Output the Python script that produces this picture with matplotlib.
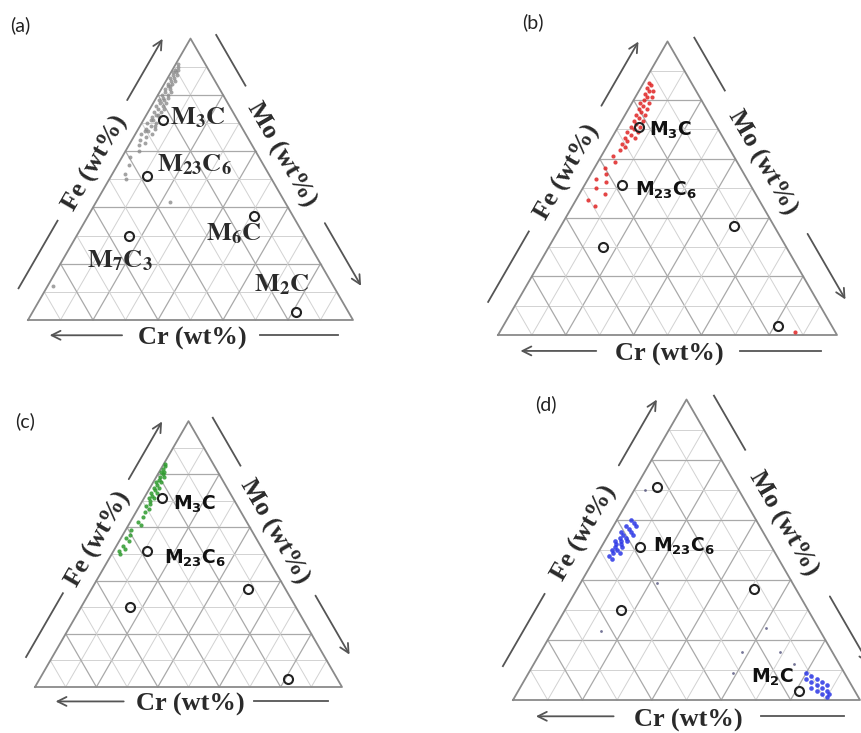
import numpy as np
import matplotlib
matplotlib.use('Agg')
import matplotlib.pyplot as plt

# carbide reference compositions, wt% (Fe, Mo); Cr is the balance
CARBIDES = ['M3C', 'M23C6', 'M7C3', 'M6C', 'M2C']
CARB_FE = [71, 51, 30, 37, 3]
CARB_MO = [6, 11, 16, 51, 81]

# (a) measured particle compositions
FE_A = [91, 90, 89, 88, 88, 87, 86, 86, 85, 84, 84, 83, 82, 82, 81, 80, 80, 79,
        78, 78, 77, 76, 76, 75, 74, 74, 73, 72, 72, 71, 70, 70, 69, 68, 68, 67,
        66, 66, 65, 64, 63, 62, 60, 58, 55, 52, 50, 42, 12,
        89, 87, 85, 83, 81, 79, 77, 75, 73, 71, 69, 67]
MO_A = [0.5, 1.0, 0.8, 1.5, 0.6, 1.2, 2.0, 0.8, 1.5, 1.0, 2.2, 1.6, 1.0, 2.6,
        1.8, 1.2, 3.0, 2.0, 1.4, 2.8, 2.2, 1.5, 3.4, 2.5, 1.8, 3.8, 2.8, 2.0,
        4.2, 3.0, 1.6, 4.5, 3.2, 2.2, 5.0, 3.5, 1.8, 5.2, 3.8, 2.5, 4.5, 3.0,
        4.0, 2.5, 3.5, 3.7, 5.0, 22.8, 1.6,
        1.8, 2.4, 2.8, 2.2, 3.4, 3.6, 4.0, 4.4, 3.6, 2.4, 4.6, 2.6]

# (b)
FE_B = [86, 85, 84, 83, 83, 82, 81, 81, 80, 79, 79, 78, 77, 77, 76, 75, 75, 74,
        73, 73, 72, 71, 71, 70, 69, 69, 68, 67, 67, 66, 65, 64, 63, 61, 59, 57,
        55, 53, 52, 50, 48, 46, 44, 1]
MO_B = [1.5, 2.5, 2.0, 3.0, 4.2, 2.5, 3.5, 4.8, 3.0, 2.5, 5.0, 3.8, 3.0, 5.5,
        4.2, 3.2, 6.0, 4.5, 3.5, 6.2, 4.8, 3.8, 6.5, 5.0, 3.5, 6.8, 5.2, 4.0,
        7.0, 5.0, 4.2, 5.5, 4.5, 3.5, 5.0, 3.0, 4.5, 2.5, 6.0, 4.0, 7.5, 3.5,
        6.5, 87]

# (c)
FE_C = [84, 83, 82, 81, 81, 80, 79, 79, 78, 77, 77, 76, 75, 75, 74, 73, 73, 72,
        71, 71, 70, 69, 68, 67, 66, 64, 62, 61, 59, 57, 56, 55, 53, 52, 51, 50]
MO_C = [0.5, 1.0, 0.8, 1.5, 0.6, 1.8, 1.2, 2.4, 1.5, 1.0, 2.6, 1.8, 1.2, 3.0,
        2.0, 1.4, 3.2, 2.2, 1.6, 3.4, 2.5, 3.0, 2.0, 3.6, 2.8, 3.2, 2.4, 4.0,
        1.8, 2.6, 1.5, 3.0, 2.2, 3.4, 1.8, 2.6]

# (d) two populations plus a few stray particles
FE_D = [60, 59, 58, 58, 57, 56, 56, 55, 55, 54, 54, 53, 53, 53, 52, 52, 51, 51,
        50, 50, 49, 49, 48, 47,
        9, 8, 7, 7, 6, 6, 5, 5, 4, 4, 3, 3, 2, 2, 1]
MO_D = [4.0, 5.5, 3.5, 6.5, 4.8, 3.2, 6.0, 4.2, 7.0, 3.8, 5.6, 3.0, 4.6, 6.4,
        3.6, 5.2, 4.0, 6.0, 3.4, 5.0, 4.2, 6.2, 3.8, 5.0,
        80, 82, 81, 84, 83, 86, 85, 88, 84, 87, 86, 89, 88, 90, 90]
FE_D_STRAY = [16, 24, 16, 9, 23, 70, 39, 12]
MO_D_STRAY = [58, 61, 69, 59, 14, 3, 22, 75]

H = np.sqrt(3) / 2


def tern(fe, mo):
    fe = np.asarray(fe, float) / 100
    mo = np.asarray(mo, float) / 100
    return mo + 0.5 * fe, fe * H


def draw_frame(ax):
    for i in range(1, 10):
        c, lw = ('#a9a9a9', 0.9) if i % 2 == 0 else ('#d2d2d2', 0.7)
        # constant Fe, constant Mo, constant Cr
        for fe, mo in (([i * 10, i * 10], [0, 100 - i * 10]),
                       ([0, 100 - i * 10], [i * 10, i * 10]),
                       ([0, 100 - i * 10], [100 - i * 10, 0])):
            x, y = tern(fe, mo)
            ax.plot(x, y, color=c, lw=lw, zorder=1)
    ax.plot([0, 1, 0.5, 0], [0, 0, H, 0], color='#8a8a8a', lw=1.3, zorder=2)

    lc = '#555555'
    tc = '#2a2a2a'
    font = dict(family='Liberation Serif', weight='bold', size=19, color=tc)
    arrow = dict(arrowstyle='->', color=lc, lw=1.3, mutation_scale=16)

    # left side: Fe
    u = np.array([0.5, H]); n = np.array([-H, 0.5]); d = 0.074
    p = lambda t, off: t * u + off * n
    ax.plot(*zip(p(0.07, d), p(0.31, d)), color=lc, lw=1.3)
    ax.annotate('', xy=p(0.965, d), xytext=p(0.73, d), arrowprops=arrow)
    ax.text(*p(0.52, 0.062), 'Fe (wt%)', rotation=60, ha='center', va='center',
            rotation_mode='anchor', **font)

    # right side: Mo
    a = np.array([0.5, H]); u = np.array([0.5, -H]); n = np.array([H, 0.5])
    q = lambda t, off: a + t * u + off * n
    ax.plot(*zip(q(0.03, d), q(0.21, d)), color=lc, lw=1.3)
    ax.annotate('', xy=q(0.93, d), xytext=q(0.69, d), arrowprops=arrow)
    ax.text(*q(0.45, 0.062), 'Mo (wt%)', rotation=-60, ha='center', va='center',
            rotation_mode='anchor', **font)

    # bottom: Cr
    ax.annotate('', xy=(0.058, -0.047), xytext=(0.298, -0.047), arrowprops=arrow)
    ax.plot([0.714, 0.954], [-0.047, -0.047], color=lc, lw=1.3)
    ax.text(0.505, -0.058, 'Cr (wt%)', ha='center', va='center', **font)


def draw_carbides(ax):
    x, y = tern(CARB_FE, CARB_MO)
    ax.plot(x, y, 'o', ms=6.5, mfc='none', mec='#222222', mew=1.5, zorder=5)


def label(ax, name, text, dx, dy, ha, serif):
    i = CARBIDES.index(name)
    x, y = tern(CARB_FE[i], CARB_MO[i])
    if serif:
        ax.annotate(text, (x, y), xytext=(dx, dy), textcoords='offset pixels',
                    ha=ha, va='center', fontsize=19, color='#2a2a2a',
                    math_fontfamily='stix', zorder=6)
    else:
        ax.annotate(text, (x, y), xytext=(dx, dy), textcoords='offset pixels',
                    ha=ha, va='center', fontsize=13.5, color='#111111',
                    math_fontfamily='dejavusans', zorder=6)


fig = plt.figure(figsize=(8.61, 7.33), dpi=100)
FW, FH = 861, 733

# bottom-left corner and base width of each triangle, in pixels
PANELS = [('(a)', 28, 320, 325, (10, 25)),
          ('(b)', 498, 335, 339, (522, 22)),
          ('(c)', 35, 687, 307, (15, 421)),
          ('(d)', 513, 700, 347, (535, 404))]

axes = []
for tag, px, py, w, (lx, ly) in PANELS:
    ax = fig.add_axes([(px - 0.2 * w) / FW, 1 - (py + 0.15 * w) / FH,
                       1.4 * w / FW, 1.1 * w / FH])
    ax.set_xlim(-0.2, 1.2)
    ax.set_ylim(-0.15, 0.95)
    ax.axis('off')
    draw_frame(ax)
    draw_carbides(ax)
    fig.text(lx / FW, 1 - ly / FH, tag, ha='left', va='center', fontsize=14,
             family='Lato', color='#222222')
    axes.append(ax)

ax_a, ax_b, ax_c, ax_d = axes

x, y = tern(FE_A, MO_A)
ax_a.scatter(x, y, s=8, color='#8c8c8c', alpha=0.8, lw=0, zorder=3)
label(ax_a, 'M3C', r'$\mathbf{M_3C}$', 7, 3, 'left', True)
label(ax_a, 'M23C6', r'$\mathbf{M_{23}C_6}$', 10, 12, 'left', True)
label(ax_a, 'M6C', r'$\mathbf{M_6C}$', 8, -18, 'right', True)
label(ax_a, 'M7C3', r'$\mathbf{M_7C_3}$', -9, -25, 'center', True)
label(ax_a, 'M2C', r'$\mathbf{M_2C}$', 14, 27, 'right', True)

x, y = tern(FE_B, MO_B)
ax_b.scatter(x, y, s=9, color='#e02424', alpha=0.85, lw=0, zorder=3)
label(ax_b, 'M3C', r'$\mathbf{M_3C}$', 10, -4, 'left', False)
label(ax_b, 'M23C6', r'$\mathbf{M_{23}C_6}$', 13, -5, 'left', False)

x, y = tern(FE_C, MO_C)
ax_c.scatter(x, y, s=9, color='#2e9a2e', alpha=0.85, lw=0, zorder=3)
label(ax_c, 'M3C', r'$\mathbf{M_3C}$', 11, -6, 'left', False)
label(ax_c, 'M23C6', r'$\mathbf{M_{23}C_6}$', 17, -7, 'left', False)

x, y = tern(FE_D, MO_D)
ax_d.scatter(x, y, s=11, color='#2a36e6', alpha=0.85, lw=0, zorder=3)
x, y = tern(FE_D_STRAY, MO_D_STRAY)
ax_d.scatter(x, y, s=4, color='#3a3a6a', alpha=0.7, lw=0, zorder=3)
label(ax_d, 'M23C6', r'$\mathbf{M_{23}C_6}$', 13, 0, 'left', False)
label(ax_d, 'M2C', r'$\mathbf{M_2C}$', -5, 14, 'right', False)

fig.savefig('out.png', dpi=100, facecolor='white')
